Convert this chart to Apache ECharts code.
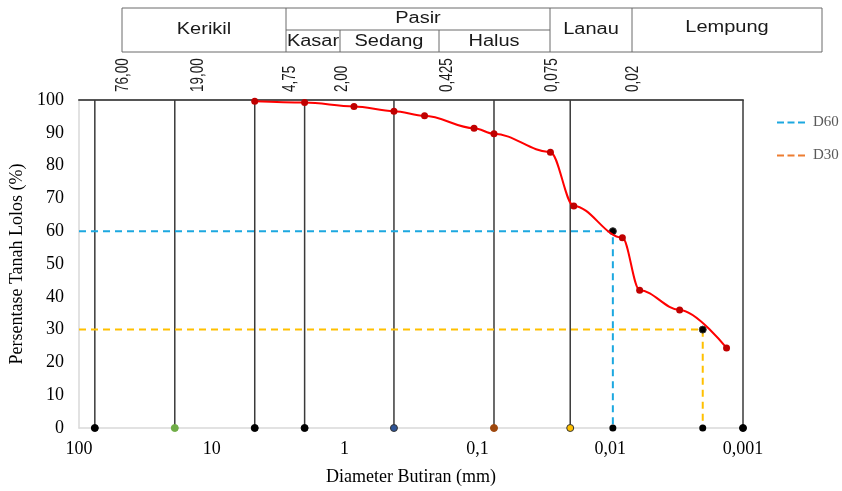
<!DOCTYPE html>
<html>
<head>
    <meta charset='utf-8' />
    <title>Analisa Saringan</title>
</head>
<body style='margin:0;width: 842px;height:491px;background:#fff;'>
<div id='chart' style='width:842px;height:491px;'></div>

<script src="https://cdn.jsdelivr.net/npm/echarts@6/dist/echarts.min.js"></script>

<script type='text/javascript'>
    // data
    var grainSize = [4.75, 2.0, 0.85, 0.425, 0.25, 0.106, 0.075, 0.0282, 0.0188, 0.0081, 0.0060, 0.0030, 0.00133];
    var passing = [99.6, 99.2, 98.0, 96.6, 95.2, 91.4, 89.7, 84.1, 67.7, 58.0, 42.0, 36.0, 24.4];

    var sieveSizes = [76, 19, 4.75, 2.0, 0.425, 0.075, 0.02, 0.001];
    var sieveDotColors = ['#000000', '#70AD47', '#000000', '#000000', '#2F5597', '#9E480E', '#FFC000', '#000000'];
    var sieveLabels = ['76,00', '19,00', '4,75', '2,00', '0,425', '0,075', '0,02'];

    var d60 = 0.00955, d30 = 0.00201;
    var yTicks = [0, 100, 10]; // min, max, interval

    var soilTop = ['Kerikil', 'Pasir', 'Lanau', 'Lempung'];
    var soilSand = ['Kasar', 'Sedang', 'Halus'];

    var chart = echarts.init(document.getElementById('chart'));

    var curveData = grainSize.map(function (d, i) { return [d, passing[i]]; });

    var series = [];
    // vertical sieve lines
    sieveSizes.forEach(function (s, i) {
        series.push({
            type: 'line',
            silent: true,
            data: [
                { value: [s, 0], itemStyle: { color: sieveDotColors[i], borderColor: i == 4 || i == 6 ? '#333' : sieveDotColors[i], borderWidth: 1 } },
                { value: [s, 100], symbol: 'none' }
            ],
            symbol: 'circle',
            symbolSize: 7,
            lineStyle: { color: '#3a3a3a', width: 1.5 },
            z: 2
        });
    });

    function dLine(name, d, p, color) {
        return {
            name: name,
            type: 'line',
            data: [
                { value: [100, p] },
                { value: [d, p], symbol: 'circle', itemStyle: { color: '#000', borderColor: '#333' } },
                { value: [d, 0], symbol: 'circle', itemStyle: { color: '#000' } }
            ],
            symbol: 'none',
            symbolSize: 7,
            color: color,
            lineStyle: { color: color, width: 2, type: [7, 5] },
            z: 3
        };
    }
    series.push(dLine('D60', d60, 60, '#1CA8E0'));
    series.push(dLine('D30', d30, 30, '#FFC000'));

    series.push({
        name: 'curve',
        type: 'line',
        data: curveData,
        smooth: 0.35,
        smoothMonotone: 'x',
        symbol: 'circle',
        symbolSize: 7,
        itemStyle: { color: '#C00000' },
        lineStyle: { color: '#FF0000', width: 2 },
        z: 4
    });

    // header table
    var graphic = [];
    var stroke = { stroke: '#6b6b6b', lineWidth: 1 };
    function ln(x1, y1, x2, y2) {
        graphic.push({ type: 'line', shape: { x1: x1, y1: y1, x2: x2, y2: y2 }, style: stroke, silent: true });
    }
    graphic.push({ type: 'rect', shape: { x: 122, y: 8, width: 700, height: 44 }, style: { fill: 'none', stroke: '#6b6b6b', lineWidth: 1 }, silent: true });
    ln(286, 8, 286, 52);
    ln(550, 8, 550, 52);
    ln(632, 8, 632, 52);
    ln(286, 30, 550, 30);
    ln(340, 30, 340, 52);
    ln(439, 30, 439, 52);

    function txt(s, x, y) {
        graphic.push({
            type: 'text', x: x, y: y, scaleX: 1.25, silent: true,
            style: { text: s, align: 'center', verticalAlign: 'middle', fontFamily: 'Liberation Sans, Arial', fontSize: 16, fill: '#1a1a1a' }
        });
    }
    txt(soilTop[0], 204, 30);
    txt(soilTop[1], 418, 19);
    txt(soilTop[2], 591, 30);
    txt(soilTop[3], 727, 28);
    txt(soilSand[0], 313, 42);
    txt(soilSand[1], 389, 42);
    txt(soilSand[2], 494, 42);

    // rotated sieve labels above the plot
    var labelX = [123, 198, 290, 342, 447, 552, 633];
    sieveLabels.forEach(function (s, i) {
        graphic.push({
            type: 'text', x: labelX[i], y: 92, rotation: Math.PI / 2, scaleY: 1.3, silent: true,
            style: { text: s, align: 'left', verticalAlign: 'middle', fontFamily: 'Liberation Sans, Arial', fontSize: 13.5, fill: '#1a1a1a' }
        });
    });

    var logAxis = {
        type: 'log',
        logBase: 10,
        min: 0.001,
        max: 100,
        inverse: true
    };

    var dashIcon = 'path://M0,0H7V2H0Z M10.5,0H17.5V2H10.5Z M21,0H28V2H21Z';

    var option = {
        animation: false,
        grid: { left: 79, right: 99, top: 100, bottom: 60 },
        legend: {
            orient: 'vertical',
            left: 772,
            top: 110,
            itemGap: 18,
            itemWidth: 28,
            itemHeight: 2,
            data: [
                { name: 'D60', icon: dashIcon, itemStyle: { color: '#1CA8E0' } },
                { name: 'D30', icon: dashIcon, itemStyle: { color: '#ED7D31' } }
            ],
            textStyle: { fontFamily: 'Liberation Serif, Times New Roman', fontSize: 15, color: '#595959', padding: [0, 0, 0, 3] }
        },
        xAxis: [
            Object.assign({}, logAxis, {
                position: 'bottom',
                name: 'Diameter Butiran (mm)',
                nameLocation: 'middle',
                nameGap: 40,
                nameTextStyle: { fontFamily: 'Liberation Serif, Times New Roman', fontSize: 18, color: '#000' },
                axisLine: { lineStyle: { color: '#d9d9d9', width: 1.5 } },
                axisTick: { show: false },
                splitLine: { show: false },
                axisLabel: {
                    margin: 12,
                    fontFamily: 'Liberation Serif, Times New Roman',
                    fontSize: 18,
                    color: '#000',
                    formatter: function (v) { return String(parseFloat(Number(v).toPrecision(6))).replace('.', ','); }
                }
            }),
            Object.assign({}, logAxis, {
                position: 'top',
                axisLine: { show: true, onZero: false, lineStyle: { color: '#555', width: 2 } },
                axisTick: { show: false },
                axisLabel: { show: false },
                splitLine: { show: false }
            })
        ],
        yAxis: {
            type: 'value',
            min: yTicks[0],
            max: yTicks[1],
            interval: yTicks[2],
            name: 'Persentase Tanah Lolos (%)',
            nameLocation: 'middle',
            nameGap: 46,
            nameTextStyle: { fontFamily: 'Liberation Serif, Times New Roman', fontSize: 18, color: '#000' },
            axisLine: { show: true, lineStyle: { color: '#d9d9d9', width: 1.5 } },
            axisTick: { show: false },
            splitLine: { show: false },
            axisLabel: { margin: 15, fontFamily: 'Liberation Serif, Times New Roman', fontSize: 18, color: '#000' }
        },
        graphic: graphic,
        series: series
    };

    chart.setOption(option);
</script>
</body>
</html>
